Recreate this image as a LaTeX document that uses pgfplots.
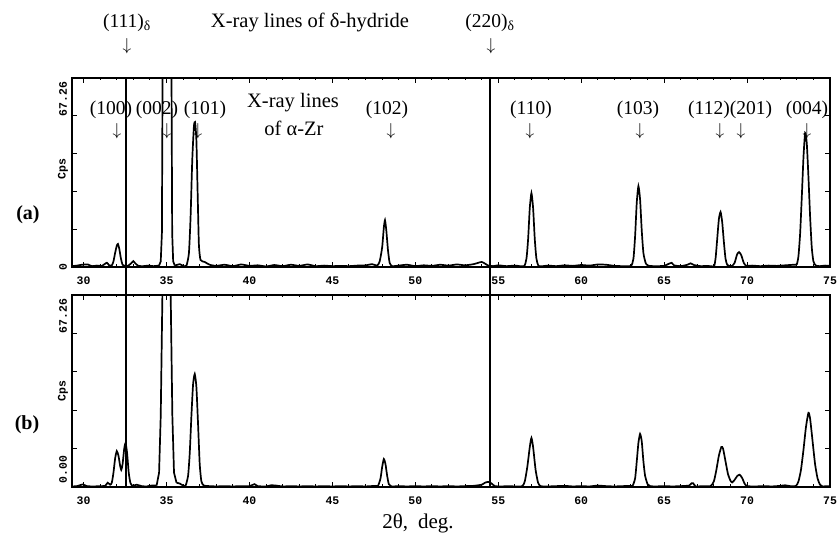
\documentclass[border=0pt]{standalone}
\usepackage{fontspec}
\setmainfont{Liberation Serif}
\newfontfamily\pix{Liberation Mono}
\usepackage{pgfplots}
\pgfplotsset{compat=1.18}
\pgfplotsset{
  xrd/.style={
    scale only axis, width=758pt,
    xmin=29.3, xmax=75, ymin=0, ymax=67.26,
    xtick={30,35,...,75}, minor x tick num=4,
    ytick={0,13.452,26.904,40.356,53.808,67.26}, yticklabels={},
    tick align=inside, major tick length=5pt, minor tick length=2.5pt,
    every tick/.style={black, line width=1pt},
    axis line style={line width=1.4pt},
    /pgf/number format/assume math mode=true,
    xticklabel style={font=\pix\bfseries\fontsize{11.5}{11.5}\selectfont, yshift=-6pt},
    clip=false,
  },
  trace/.style={black, line width=1.7pt, smooth, tension=0.35, no markers},
  sharp/.style={black, line width=1.7pt, sharp plot, no markers},
  dline/.style={black, line width=1.8pt, no markers},
}
\newcommand{\lab}{\fontsize{19.5}{19.5}\selectfont}
\newcommand{\arr}{\fontsize{16}{16}\selectfont$\downarrow$}
\newcommand{\tl}{\pix\bfseries\fontsize{11.5}{11.5}\selectfont}
\begin{document}
\begin{tikzpicture}
\useasboundingbox (0,0) rectangle (839pt,540pt);
% ---------------- panel (a)
\begin{axis}[xrd, height=189pt, at={(72pt,273pt)}, anchor=south west]
\addplot[trace] coordinates {
(29.3,0.3)(29.6,0.5)(29.9,0.8)(30.25,0.9)(30.5,0.3)(30.8,0.5)(31.1,0.4)(31.4,1.5)(31.55,0.5)
(31.7,0.6)(31.8,2)(31.9,5)(32.0,7.6)(32.07,8.2)(32.15,6.5)(32.25,3)(32.35,0.8)(32.5,0.3)
(32.7,0.5)(32.9,1.5)(33.0,2.1)(33.1,1.4)(33.3,0.4)(33.6,0.3)(33.9,0.5)(34.2,0.3)(34.55,0.5)};
\addplot[sharp] coordinates {
(34.55,0.5)(34.65,2)(34.72,12)(34.76,67.26)(35.3,67.26)(35.34,12)(35.4,2)(35.5,0.5)};
\addplot[trace] coordinates {
(35.5,0.5)(35.8,1.0)(36.0,0.4)(36.2,0.5)(36.35,5)(36.45,18)(36.55,38)(36.65,50)(36.72,51.6)
(36.8,45)(36.88,25)(36.95,8)(37.05,2.5)(37.3,1.8)(37.6,0.8)(38.0,0.4)(38.5,0.8)(39.0,0.3)
(39.5,0.9)(40.0,0.4)(40.5,0.6)(41.0,0.2)(41.5,0.7)(42.0,0.3)(42.5,0.8)(43.0,0.4)(43.5,0.9)
(44.0,0.3)(44.5,0.5)(45.0,0.3)(45.5,0.4)(46.0,0.3)(46.5,0.5)(47.0,0.6)(47.4,1.0)(47.7,0.5)
(47.85,2)(48.0,7)(48.1,14)(48.17,16.7)(48.25,13)(48.35,6)(48.45,1.5)(48.6,0.3)
(49.0,0.5)(49.5,0.8)(50.0,0.3)(50.5,0.6)(51.0,0.4)(51.5,0.8)(52.0,0.5)(52.5,0.9)(53.0,0.6)
(53.5,1.0)(53.8,1.5)(54.0,1.8)(54.2,1.2)(54.4,0.5)(54.7,0.3)(55.0,0.6)(55.5,0.3)(56.0,0.5)
(56.55,0.3)(56.7,3)(56.8,10)(56.9,21)(57.0,26.3)(57.1,21)(57.2,10)(57.3,3)(57.45,0.3)
(58.0,0.5)(58.5,0.3)(59.0,0.6)(59.5,0.4)(60.0,0.7)(60.5,0.5)(61.0,0.9)(61.5,0.8)(62.0,0.4)
(62.5,0.3)(63.0,0.4)(63.15,3)(63.25,11)(63.35,23)(63.45,28.8)(63.55,24)(63.65,13)(63.75,5)
(63.9,1.2)(64.1,0.4)(64.5,0.3)(65.0,0.4)(65.3,1.2)(65.45,1.5)(65.6,0.6)(66.0,0.3)(66.4,0.8)
(66.6,1.3)(66.8,0.7)(67.2,0.3)(67.6,0.4)(68.0,0.3)(68.1,3)(68.2,10)(68.3,17)(68.4,19.6)
(68.5,16)(68.6,9)(68.7,3)(68.8,0.8)(68.95,0.3)(69.1,0.4)(69.25,1.5)(69.4,4.5)(69.52,5.3)
(69.65,4.2)(69.8,1.5)(69.95,0.4)(70.3,0.5)(70.8,0.3)(71.3,0.5)(71.8,0.4)(72.3,0.6)(72.8,0.8)
(73.0,1.0)(73.1,4)(73.2,12)(73.3,25)(73.4,39)(73.5,47.7)(73.6,44)(73.7,32)(73.8,18)(73.9,7)
(74.0,2)(74.15,0.5)(74.4,0.3)(74.7,0.5)(75.0,0.4)};
\addplot[dline] coordinates {(32.55,-10)(32.55,67.26)};
\addplot[dline] coordinates {(54.5,-10)(54.5,67.26)};
\node[font=\tl, rotate=90, anchor=east] at ([xshift=-9pt]rel axis cs:0,1) {67.26};
\node[font=\tl, rotate=90, anchor=center] at ([xshift=-9pt]rel axis cs:0,0) {0};
\node[font=\tl, rotate=90] at ([xshift=-9pt]rel axis cs:0,0.52) {Cps};
\end{axis}
% ---------------- panel (b)
\begin{axis}[xrd, height=192pt, at={(72pt,53pt)}, anchor=south west]
\addplot[trace] coordinates {
(29.3,0.2)(29.6,0.3)(29.95,0.9)(30.2,0.3)(30.6,0.2)(31.0,0.3)(31.3,0.4)(31.45,1.5)(31.6,0.8)
(31.7,1.5)(31.8,5)(31.9,10)(32.0,12.6)(32.1,11)(32.2,7.5)(32.27,6)(32.35,8)(32.45,13.5)
(32.53,15.4)(32.62,12)(32.72,5)(32.82,1.5)(32.95,0.4)(33.2,0.8)(33.5,0.3)(33.8,0.2)(34.1,0.5)(34.4,0.5)};
\addplot[sharp] coordinates {
(34.4,0.5)(34.55,5)(34.65,25)(34.75,67.26)(35.25,67.26)(35.35,25)(35.45,5)(35.6,1.5)};
\addplot[trace] coordinates {
(35.6,1.5)(35.8,1.2)(36.0,0.5)(36.15,0.5)(36.3,4)(36.4,12)(36.5,25)(36.6,36)(36.7,39.6)
(36.8,35)(36.9,22)(37.0,8)(37.1,2)(37.25,0.5)(37.6,0.3)(38.0,0.2)(38.5,0.3)(39.0,0.2)(39.5,0.3)
(40.0,0.3)(40.3,1.0)(40.5,0.3)(41.0,0.2)(41.3,0.6)(41.6,0.5)(42.0,0.2)(42.5,0.3)(43.0,0.2)
(43.5,0.3)(44.0,0.2)(44.5,0.3)(45.0,0.2)(45.5,0.3)(46.0,0.2)(46.5,0.3)(47.0,0.2)(47.6,0.4)
(47.75,0.4)(47.9,3)(48.0,7)(48.1,9.8)(48.2,8)(48.3,4)(48.4,1)(48.55,0.2)(49.0,0.3)(49.5,0.2)
(50.0,0.3)(50.5,0.2)(51.0,0.3)(51.5,0.2)(52.0,0.3)(52.5,0.2)(53.0,0.3)(53.5,0.4)(54.0,0.8)
(54.2,1.5)(54.4,1.8)(54.6,1.2)(54.8,0.3)(55.2,0.2)(55.6,0.3)(56.0,0.2)(56.45,0.3)(56.6,2)
(56.75,7)(56.9,14)(57.0,17.2)(57.1,14)(57.25,6)(57.4,1.5)(57.55,0.3)(58.0,0.2)(58.5,0.3)
(59.0,0.4)(59.5,0.2)(60.0,0.3)(60.5,0.2)(61.0,0.5)(61.5,0.3)(62.0,0.2)(62.5,0.3)(63.0,0.4)
(63.1,0.4)(63.25,3)(63.35,9)(63.45,15.5)(63.55,18.6)(63.65,16)(63.75,9)(63.85,4)(64.0,1)
(64.15,0.3)(64.5,0.2)(65.0,0.3)(65.5,0.2)(66.0,0.3)(66.5,0.5)(66.65,1.3)(66.75,1.3)(66.9,0.2)
(67.3,0.3)(67.8,0.3)(68.0,2)(68.15,6)(68.3,11)(68.45,14)(68.55,13.5)(68.7,9)(68.85,4.5)
(69.0,2.2)(69.1,1.6)(69.25,2.5)(69.4,3.8)(69.55,4.3)(69.7,3.2)(69.85,1.2)(70.0,0.3)(70.5,0.2)
(71.0,0.3)(71.5,0.2)(72.0,0.4)(72.3,0.6)(72.6,0.3)(72.95,0.4)(73.1,2)(73.25,6)(73.4,13)
(73.55,21)(73.7,26)(73.8,24)(73.95,16)(74.1,8)(74.25,3)(74.4,0.8)(74.55,0.2)(74.8,0.3)(75.0,0.3)};
\addplot[dline] coordinates {(32.55,0)(32.55,67.26)};
\addplot[dline] coordinates {(54.5,0)(54.5,67.26)};
\node[font=\tl, rotate=90, anchor=east] at ([xshift=-9pt]rel axis cs:0,1) {67.26};
\node[font=\tl, rotate=90, anchor=west] at ([xshift=-9pt]rel axis cs:0,0) {0.00};
\node[font=\tl, rotate=90] at ([xshift=-9pt]rel axis cs:0,0.5) {Cps};
\end{axis}
% ---------------- annotations
\node[font=\lab] at (127pt,517pt) {(111)\textsubscript{δ}};
\node at (127pt,494pt) {\arr};
\node[font=\fontsize{20.5}{20.5}\selectfont] at (310pt,517pt) {X-ray lines of δ-hydride};
\node[font=\lab] at (490pt,517pt) {(220)\textsubscript{δ}};
\node at (491pt,494pt) {\arr};
\node[font=\lab] at (111pt,430pt) {(100)};
\node[font=\lab] at (157pt,430pt) {(002)};
\node[font=\lab] at (205pt,430pt) {(101)};
\node[font=\fontsize{20.5}{20.5}\selectfont] at (293pt,437pt) {X-ray lines};
\node[font=\fontsize{20.5}{20.5}\selectfont] at (294pt,412pt) {of α-Zr};
\node[font=\lab] at (387pt,430pt) {(102)};
\node[font=\lab] at (531pt,430pt) {(110)};
\node[font=\lab] at (638pt,430pt) {(103)};
\node[font=\lab] at (709pt,430pt) {(112)};
\node[font=\lab] at (751pt,430pt) {(201)};
\node[font=\lab] at (807pt,430pt) {(004)};
\foreach \xa in {117,167,198,391,530,640,720,741,807} {\node at (\xa pt,409pt) {\arr};}
\node[font=\fontsize{20}{20}\selectfont\bfseries] at (28pt,325pt) {(a)};
\node[font=\fontsize{20}{20}\selectfont\bfseries] at (27pt,115pt) {(b)};
\node[font=\fontsize{21}{21}\selectfont] at (418pt,17pt) {2θ,\hspace{10pt}deg.};
\end{tikzpicture}
\end{document}
